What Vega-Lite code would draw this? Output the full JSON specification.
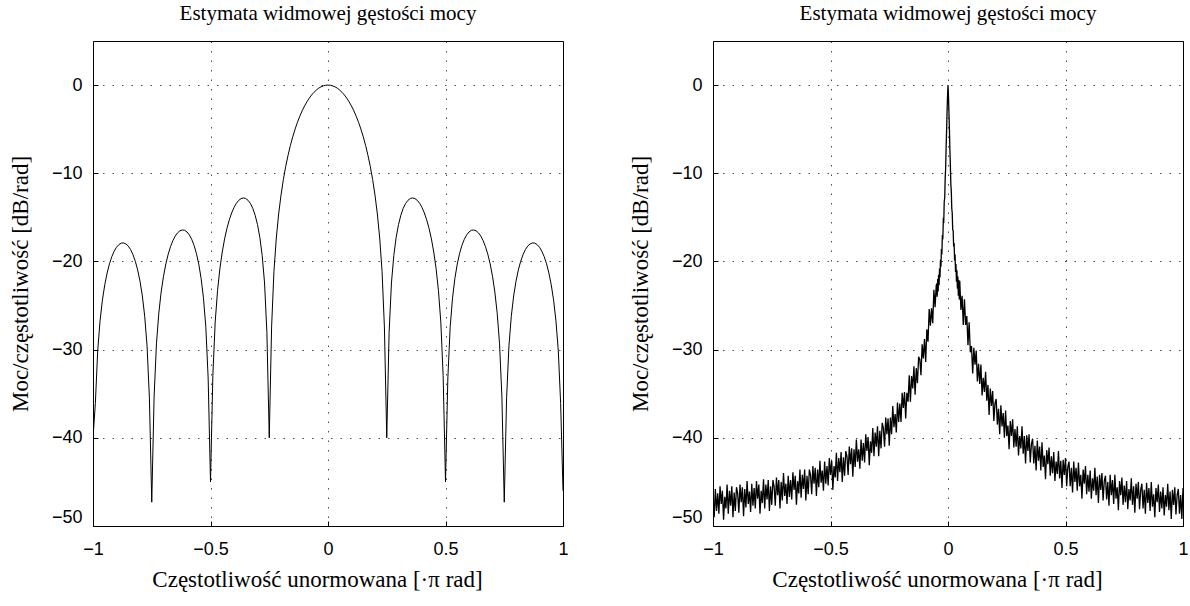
{
  "$schema": "https://vega.github.io/schema/vega-lite/v6.json",
  "background": "white",
  "padding": {"left": 8, "top": 2, "right": 0, "bottom": 0},
  "spacing": 150,
  "bounds": "flush",
  "config": {
    "view": {"stroke": "#000", "strokeWidth": 1},
    "axis": {
      "grid": true, "gridColor": "#000", "gridDash": [1.5, 8], "gridWidth": 1, "gridOpacity": 0.7,
      "domain": false, "ticks": true, "tickColor": "#000", "tickSize": -5,
      "labelFont": "Liberation Sans", "labelFontSize": 18, "labelColor": "#000",
      "titleFont": "Liberation Serif", "titleFontSize": 23, "titleFontWeight": "normal", "titleColor": "#000"
    },
    "axisX": {"labelFlush": false, "labelPadding": 19, "titleX": 224, "titleY": 53, "titleBaseline": "middle"},
    "axisY": {"labelFlush": true, "labelPadding": 16, "titleX": -73, "titleBaseline": "middle"},
    "title": {"font": "Liberation Serif", "fontSize": 21, "fontWeight": "normal", "color": "#000", "offset": 17}
  },
  "datasets": {
    "psdL": [
      {"x":-1,"y":-40},{"x":-0.99,"y":-36.1},{"x":-0.98,"y":-30.14},{"x":-0.97,"y":-26.73},{"x":-0.96,"y":-24.39},{"x":-0.95,"y":-22.65},{"x":-0.94,"y":-21.32},{"x":-0.93,"y":-20.27},{"x":-0.92,"y":-19.46},{"x":-0.91,"y":-18.84},
      {"x":-0.9,"y":-18.39},{"x":-0.89,"y":-18.09},{"x":-0.88,"y":-17.92},{"x":-0.87,"y":-17.9},{"x":-0.86,"y":-18.01},{"x":-0.85,"y":-18.25},{"x":-0.84,"y":-18.65},{"x":-0.83,"y":-19.22},{"x":-0.82,"y":-19.98},{"x":-0.81,"y":-20.96},
      {"x":-0.8,"y":-22.24},{"x":-0.79,"y":-23.92},{"x":-0.78,"y":-26.21},{"x":-0.77,"y":-29.57},{"x":-0.76,"y":-35.47},{"x":-0.75,"y":-47.3},{"x":-0.74,"y":-35.36},{"x":-0.73,"y":-29.34},{"x":-0.72,"y":-25.87},{"x":-0.71,"y":-23.47},
      {"x":-0.7,"y":-21.68},{"x":-0.69,"y":-20.28},{"x":-0.68,"y":-19.18},{"x":-0.67,"y":-18.31},{"x":-0.66,"y":-17.63},{"x":-0.65,"y":-17.11},{"x":-0.64,"y":-16.75},{"x":-0.63,"y":-16.52},{"x":-0.62,"y":-16.43},{"x":-0.61,"y":-16.47},
      {"x":-0.6,"y":-16.66},{"x":-0.59,"y":-16.99},{"x":-0.58,"y":-17.49},{"x":-0.57,"y":-18.17},{"x":-0.56,"y":-19.09},{"x":-0.55,"y":-20.3},{"x":-0.54,"y":-21.91},{"x":-0.53,"y":-24.12},{"x":-0.52,"y":-27.4},{"x":-0.51,"y":-33.22},
      {"x":-0.5,"y":-45},{"x":-0.49,"y":-32.95},{"x":-0.48,"y":-26.86},{"x":-0.47,"y":-23.3},{"x":-0.46,"y":-20.81},{"x":-0.45,"y":-18.93},{"x":-0.44,"y":-17.44},{"x":-0.43,"y":-16.25},{"x":-0.42,"y":-15.28},{"x":-0.41,"y":-14.5},
      {"x":-0.4,"y":-13.88},{"x":-0.39,"y":-13.41},{"x":-0.38,"y":-13.08},{"x":-0.37,"y":-12.87},{"x":-0.36,"y":-12.8},{"x":-0.35,"y":-12.86},{"x":-0.34,"y":-13.07},{"x":-0.33,"y":-13.43},{"x":-0.32,"y":-13.98},{"x":-0.31,"y":-14.76},
      {"x":-0.3,"y":-15.82},{"x":-0.29,"y":-17.27},{"x":-0.28,"y":-19.33},{"x":-0.27,"y":-22.44},{"x":-0.26,"y":-28.08},{"x":-0.25,"y":-40},{"x":-0.24,"y":-27.42},{"x":-0.23,"y":-21.12},{"x":-0.22,"y":-17.34},{"x":-0.21,"y":-14.61},
      {"x":-0.2,"y":-12.48},{"x":-0.19,"y":-10.72},{"x":-0.18,"y":-9.24},{"x":-0.17,"y":-7.96},{"x":-0.16,"y":-6.84},{"x":-0.15,"y":-5.86},{"x":-0.14,"y":-4.99},{"x":-0.13,"y":-4.22},{"x":-0.12,"y":-3.53},{"x":-0.11,"y":-2.92},
      {"x":-0.1,"y":-2.38},{"x":-0.09,"y":-1.91},{"x":-0.08,"y":-1.49},{"x":-0.07,"y":-1.13},{"x":-0.06,"y":-0.83},{"x":-0.05,"y":-0.57},{"x":-0.04,"y":-0.36},{"x":-0.03,"y":-0.2},{"x":-0.02,"y":-0.09},{"x":-0.01,"y":-0.02},
      {"x":0,"y":0},
      {"x":0.01,"y":-0.02},{"x":0.02,"y":-0.09},{"x":0.03,"y":-0.2},{"x":0.04,"y":-0.36},{"x":0.05,"y":-0.57},{"x":0.06,"y":-0.83},{"x":0.07,"y":-1.13},{"x":0.08,"y":-1.49},{"x":0.09,"y":-1.91},{"x":0.1,"y":-2.38},
      {"x":0.11,"y":-2.92},{"x":0.12,"y":-3.53},{"x":0.13,"y":-4.22},{"x":0.14,"y":-4.99},{"x":0.15,"y":-5.86},{"x":0.16,"y":-6.84},{"x":0.17,"y":-7.96},{"x":0.18,"y":-9.24},{"x":0.19,"y":-10.72},{"x":0.2,"y":-12.48},
      {"x":0.21,"y":-14.61},{"x":0.22,"y":-17.34},{"x":0.23,"y":-21.12},{"x":0.24,"y":-27.42},{"x":0.25,"y":-40},{"x":0.26,"y":-28.08},{"x":0.27,"y":-22.44},{"x":0.28,"y":-19.33},{"x":0.29,"y":-17.27},{"x":0.3,"y":-15.82},
      {"x":0.31,"y":-14.76},{"x":0.32,"y":-13.98},{"x":0.33,"y":-13.43},{"x":0.34,"y":-13.07},{"x":0.35,"y":-12.86},{"x":0.36,"y":-12.8},{"x":0.37,"y":-12.87},{"x":0.38,"y":-13.08},{"x":0.39,"y":-13.41},{"x":0.4,"y":-13.88},
      {"x":0.41,"y":-14.5},{"x":0.42,"y":-15.28},{"x":0.43,"y":-16.25},{"x":0.44,"y":-17.44},{"x":0.45,"y":-18.93},{"x":0.46,"y":-20.81},{"x":0.47,"y":-23.3},{"x":0.48,"y":-26.86},{"x":0.49,"y":-32.95},{"x":0.5,"y":-45},
      {"x":0.51,"y":-33.22},{"x":0.52,"y":-27.4},{"x":0.53,"y":-24.12},{"x":0.54,"y":-21.91},{"x":0.55,"y":-20.3},{"x":0.56,"y":-19.09},{"x":0.57,"y":-18.17},{"x":0.58,"y":-17.49},{"x":0.59,"y":-16.99},{"x":0.6,"y":-16.66},
      {"x":0.61,"y":-16.47},{"x":0.62,"y":-16.43},{"x":0.63,"y":-16.52},{"x":0.64,"y":-16.75},{"x":0.65,"y":-17.11},{"x":0.66,"y":-17.63},{"x":0.67,"y":-18.31},{"x":0.68,"y":-19.18},{"x":0.69,"y":-20.28},{"x":0.7,"y":-21.68},
      {"x":0.71,"y":-23.47},{"x":0.72,"y":-25.87},{"x":0.73,"y":-29.34},{"x":0.74,"y":-35.36},{"x":0.75,"y":-47.3},{"x":0.76,"y":-35.47},{"x":0.77,"y":-29.57},{"x":0.78,"y":-26.21},{"x":0.79,"y":-23.92},{"x":0.8,"y":-22.24},
      {"x":0.81,"y":-20.96},{"x":0.82,"y":-19.98},{"x":0.83,"y":-19.22},{"x":0.84,"y":-18.65},{"x":0.85,"y":-18.25},{"x":0.86,"y":-18.01},{"x":0.87,"y":-17.9},{"x":0.88,"y":-17.92},{"x":0.89,"y":-18.09},{"x":0.9,"y":-18.39},
      {"x":0.91,"y":-18.84},{"x":0.92,"y":-19.46},{"x":0.93,"y":-20.27},{"x":0.94,"y":-21.32},{"x":0.95,"y":-22.65},{"x":0.96,"y":-24.39},{"x":0.97,"y":-26.73},{"x":0.98,"y":-30.14},{"x":0.99,"y":-36.1},{"x":1,"y":-46}
    ],
    "psdR": [
      {"x":-1,"y":-46.7},{"x":-0.995,"y":-49.0},{"x":-0.99,"y":-45.8},{"x":-0.985,"y":-48.3},{"x":-0.98,"y":-46.3},{"x":-0.975,"y":-48.6},{"x":-0.97,"y":-45.5},{"x":-0.965,"y":-47.5},{"x":-0.96,"y":-46.0},{"x":-0.955,"y":-49.3},
      {"x":-0.95,"y":-46.7},{"x":-0.945,"y":-48.0},{"x":-0.94,"y":-45.3},{"x":-0.935,"y":-48.6},{"x":-0.93,"y":-46.0},{"x":-0.925,"y":-47.7},{"x":-0.92,"y":-45.5},{"x":-0.915,"y":-49.0},{"x":-0.91,"y":-46.2},{"x":-0.905,"y":-48.3},
      {"x":-0.9,"y":-45.6},{"x":-0.895,"y":-46.3},{"x":-0.89,"y":-48.5},{"x":-0.885,"y":-45.3},{"x":-0.88,"y":-47.3},{"x":-0.875,"y":-45.6},{"x":-0.87,"y":-48.9},{"x":-0.865,"y":-45.8},{"x":-0.86,"y":-47.9},{"x":-0.855,"y":-44.9},
      {"x":-0.85,"y":-47.5},{"x":-0.845,"y":-46.1},{"x":-0.84,"y":-48.4},{"x":-0.835,"y":-45.2},{"x":-0.83,"y":-47.7},{"x":-0.825,"y":-45.7},{"x":-0.82,"y":-48.0},{"x":-0.815,"y":-44.9},{"x":-0.81,"y":-46.9},{"x":-0.805,"y":-45.3},
      {"x":-0.8,"y":-48.6},{"x":-0.795,"y":-46.0},{"x":-0.79,"y":-47.4},{"x":-0.785,"y":-44.7},{"x":-0.78,"y":-48.0},{"x":-0.775,"y":-45.3},{"x":-0.77,"y":-47.0},{"x":-0.765,"y":-44.8},{"x":-0.76,"y":-48.3},{"x":-0.755,"y":-45.5},
      {"x":-0.75,"y":-47.6},{"x":-0.745,"y":-44.8},{"x":-0.74,"y":-45.5},{"x":-0.735,"y":-47.7},{"x":-0.73,"y":-44.5},{"x":-0.725,"y":-46.5},{"x":-0.72,"y":-44.8},{"x":-0.715,"y":-48.0},{"x":-0.71,"y":-45.0},{"x":-0.705,"y":-47.1},
      {"x":-0.7,"y":-44.0},{"x":-0.695,"y":-46.6},{"x":-0.69,"y":-45.2},{"x":-0.685,"y":-47.5},{"x":-0.68,"y":-44.3},{"x":-0.675,"y":-46.7},{"x":-0.67,"y":-44.8},{"x":-0.665,"y":-47.0},{"x":-0.66,"y":-43.9},{"x":-0.655,"y":-45.9},
      {"x":-0.65,"y":-44.3},{"x":-0.645,"y":-47.6},{"x":-0.64,"y":-44.9},{"x":-0.635,"y":-46.3},{"x":-0.63,"y":-43.6},{"x":-0.625,"y":-46.8},{"x":-0.62,"y":-44.2},{"x":-0.615,"y":-45.8},{"x":-0.61,"y":-43.6},{"x":-0.605,"y":-47.1},
      {"x":-0.6,"y":-44.3},{"x":-0.595,"y":-46.4},{"x":-0.59,"y":-43.6},{"x":-0.585,"y":-44.2},{"x":-0.58,"y":-46.4},{"x":-0.575,"y":-43.2},{"x":-0.57,"y":-45.2},{"x":-0.565,"y":-43.4},{"x":-0.56,"y":-46.6},{"x":-0.555,"y":-43.6},
      {"x":-0.55,"y":-45.6},{"x":-0.545,"y":-42.6},{"x":-0.54,"y":-45.1},{"x":-0.535,"y":-43.7},{"x":-0.53,"y":-46.0},{"x":-0.525,"y":-42.7},{"x":-0.52,"y":-45.2},{"x":-0.515,"y":-43.2},{"x":-0.51,"y":-45.4},{"x":-0.505,"y":-42.3},
      {"x":-0.5,"y":-44.2},{"x":-0.495,"y":-42.6},{"x":-0.49,"y":-45.9},{"x":-0.485,"y":-43.2},{"x":-0.48,"y":-44.5},{"x":-0.475,"y":-41.7},{"x":-0.47,"y":-44.9},{"x":-0.465,"y":-42.3},{"x":-0.46,"y":-43.9},{"x":-0.455,"y":-41.6},
      {"x":-0.45,"y":-45.0},{"x":-0.445,"y":-42.2},{"x":-0.44,"y":-44.3},{"x":-0.435,"y":-41.5},{"x":-0.43,"y":-42.1},{"x":-0.425,"y":-44.2},{"x":-0.42,"y":-41.0},{"x":-0.415,"y":-43.0},{"x":-0.41,"y":-41.2},{"x":-0.405,"y":-44.4},
      {"x":-0.4,"y":-41.3},{"x":-0.395,"y":-43.3},{"x":-0.39,"y":-40.2},{"x":-0.385,"y":-42.7},{"x":-0.38,"y":-41.3},{"x":-0.375,"y":-43.5},{"x":-0.37,"y":-40.2},{"x":-0.365,"y":-42.6},{"x":-0.36,"y":-40.6},{"x":-0.355,"y":-42.8},
      {"x":-0.35,"y":-39.6},{"x":-0.345,"y":-41.5},{"x":-0.34,"y":-39.9},{"x":-0.335,"y":-43.1},{"x":-0.33,"y":-40.4},{"x":-0.325,"y":-41.7},{"x":-0.32,"y":-38.9},{"x":-0.315,"y":-42.1},{"x":-0.31,"y":-39.4},{"x":-0.305,"y":-41.0},
      {"x":-0.3,"y":-38.7},{"x":-0.295,"y":-42.1},{"x":-0.29,"y":-39.2},{"x":-0.285,"y":-41.2},{"x":-0.28,"y":-38.3},{"x":-0.275,"y":-38.9},{"x":-0.27,"y":-41.0},{"x":-0.265,"y":-37.7},{"x":-0.26,"y":-39.6},{"x":-0.255,"y":-37.8},
      {"x":-0.25,"y":-40.9},{"x":-0.245,"y":-37.7},{"x":-0.24,"y":-39.6},{"x":-0.235,"y":-36.4},{"x":-0.23,"y":-38.8},{"x":-0.225,"y":-37.3},{"x":-0.22,"y":-39.4},{"x":-0.215,"y":-36.0},{"x":-0.21,"y":-38.2},{"x":-0.205,"y":-36.1},
      {"x":-0.2,"y":-38.2},{"x":-0.195,"y":-34.9},{"x":-0.19,"y":-36.6},{"x":-0.185,"y":-34.8},{"x":-0.18,"y":-37.8},{"x":-0.175,"y":-34.9},{"x":-0.17,"y":-35.9},{"x":-0.165,"y":-32.9},{"x":-0.16,"y":-35.9},{"x":-0.155,"y":-33.0},
      {"x":-0.15,"y":-34.4},{"x":-0.145,"y":-31.9},{"x":-0.14,"y":-35.1},{"x":-0.135,"y":-32.1},{"x":-0.13,"y":-33.8},{"x":-0.125,"y":-30.8},{"x":-0.12,"y":-31.1},{"x":-0.115,"y":-32.9},{"x":-0.11,"y":-29.4},{"x":-0.105,"y":-31.0},
      {"x":-0.1,"y":-28.8},{"x":-0.095,"y":-31.4},{"x":-0.09,"y":-27.7},{"x":-0.085,"y":-29.1},{"x":-0.08,"y":-25.4},{"x":-0.075,"y":-27.3},{"x":-0.07,"y":-25.3},{"x":-0.065,"y":-27.0},{"x":-0.06,"y":-23.2},{"x":-0.055,"y":-25.2},
      {"x":-0.05,"y":-22.7},{"x":-0.048,"y":-22.6},{"x":-0.046,"y":-24.0},{"x":-0.044,"y":-22.0},{"x":-0.042,"y":-23.4},{"x":-0.04,"y":-21.5},{"x":-0.038,"y":-22.7},{"x":-0.036,"y":-20.8},{"x":-0.034,"y":-21.8},{"x":-0.032,"y":-19.8},
      {"x":-0.03,"y":-20.6},{"x":-0.028,"y":-18.6},{"x":-0.026,"y":-19.2},{"x":-0.024,"y":-17.0},{"x":-0.022,"y":-17.5},{"x":-0.02,"y":-15.3},{"x":-0.018,"y":-15.4},{"x":-0.016,"y":-13.2},{"x":-0.014,"y":-12.8},{"x":-0.012,"y":-10.6},
      {"x":-0.01,"y":-9.4},{"x":-0.008,"y":-7.1},{"x":-0.006,"y":-5.2},{"x":-0.004,"y":-3.0},{"x":-0.002,"y":-1.3},{"x":0,"y":0},
      {"x":0.002,"y":-1.2},{"x":0.004,"y":-3.1},{"x":0.006,"y":-5.0},{"x":0.008,"y":-7.3},{"x":0.01,"y":-9.0},{"x":0.012,"y":-11.2},{"x":0.014,"y":-12.0},{"x":0.016,"y":-14.0},{"x":0.018,"y":-14.5},{"x":0.02,"y":-16.4},
      {"x":0.022,"y":-16.5},{"x":0.024,"y":-18.3},{"x":0.026,"y":-17.9},{"x":0.028,"y":-19.9},{"x":0.03,"y":-19.2},{"x":0.032,"y":-21.2},{"x":0.034,"y":-20.3},{"x":0.036,"y":-22.3},{"x":0.038,"y":-21.0},{"x":0.04,"y":-23.1},
      {"x":0.042,"y":-21.7},{"x":0.044,"y":-23.9},{"x":0.046,"y":-22.1},{"x":0.048,"y":-24.3},
      {"x":0.05,"y":-22.2},{"x":0.055,"y":-25.5},{"x":0.06,"y":-23.9},{"x":0.065,"y":-27.2},{"x":0.07,"y":-24.3},{"x":0.075,"y":-27.2},{"x":0.08,"y":-26.2},{"x":0.085,"y":-29.5},{"x":0.09,"y":-26.9},{"x":0.095,"y":-30.3},
      {"x":0.1,"y":-29.6},{"x":0.105,"y":-32.7},{"x":0.11,"y":-29.8},{"x":0.115,"y":-31.7},{"x":0.12,"y":-30.1},{"x":0.125,"y":-33.6},{"x":0.13,"y":-31.6},{"x":0.135,"y":-33.9},{"x":0.14,"y":-31.7},{"x":0.145,"y":-35.2},
      {"x":0.15,"y":-33.2},{"x":0.155,"y":-34.8},{"x":0.16,"y":-32.5},{"x":0.165,"y":-35.8},{"x":0.17,"y":-34.0},{"x":0.175,"y":-37.4},{"x":0.18,"y":-34.4},{"x":0.185,"y":-36.4},{"x":0.19,"y":-34.7},{"x":0.195,"y":-38.1},
      {"x":0.2,"y":-36.1},{"x":0.205,"y":-35.6},{"x":0.21,"y":-38.5},{"x":0.215,"y":-36.7},{"x":0.22,"y":-39.6},{"x":0.225,"y":-36.3},{"x":0.23,"y":-38.7},{"x":0.235,"y":-37.2},{"x":0.24,"y":-40.0},{"x":0.245,"y":-36.9},
      {"x":0.25,"y":-39.8},{"x":0.255,"y":-38.6},{"x":0.26,"y":-41.3},{"x":0.265,"y":-38.1},{"x":0.27,"y":-39.8},{"x":0.275,"y":-37.9},{"x":0.28,"y":-41.1},{"x":0.285,"y":-39.0},{"x":0.29,"y":-41.0},{"x":0.295,"y":-38.7},
      {"x":0.3,"y":-42.0},{"x":0.305,"y":-39.8},{"x":0.31,"y":-41.2},{"x":0.315,"y":-38.7},{"x":0.32,"y":-41.8},{"x":0.325,"y":-39.8},{"x":0.33,"y":-42.9},{"x":0.335,"y":-39.7},{"x":0.34,"y":-41.5},{"x":0.345,"y":-39.6},
      {"x":0.35,"y":-42.8},{"x":0.355,"y":-40.7},{"x":0.36,"y":-40.1},{"x":0.365,"y":-42.9},{"x":0.37,"y":-40.9},{"x":0.375,"y":-43.7},{"x":0.38,"y":-40.3},{"x":0.385,"y":-42.6},{"x":0.39,"y":-41.0},{"x":0.395,"y":-43.7},
      {"x":0.4,"y":-40.5},{"x":0.405,"y":-43.3},{"x":0.41,"y":-42.0},{"x":0.415,"y":-44.7},{"x":0.42,"y":-41.4},{"x":0.425,"y":-43.0},{"x":0.43,"y":-41.1},{"x":0.435,"y":-44.3},{"x":0.44,"y":-42.1},{"x":0.445,"y":-44.0},
      {"x":0.45,"y":-41.6},{"x":0.455,"y":-44.9},{"x":0.46,"y":-42.7},{"x":0.465,"y":-44.1},{"x":0.47,"y":-41.5},{"x":0.475,"y":-44.6},{"x":0.48,"y":-42.6},{"x":0.485,"y":-45.7},{"x":0.49,"y":-42.5},{"x":0.495,"y":-44.2},
      {"x":0.5,"y":-42.3},{"x":0.505,"y":-45.5},{"x":0.51,"y":-43.3},{"x":0.515,"y":-42.7},{"x":0.52,"y":-45.5},{"x":0.525,"y":-43.4},{"x":0.53,"y":-46.2},{"x":0.535,"y":-42.7},{"x":0.54,"y":-45.0},{"x":0.545,"y":-43.4},
      {"x":0.55,"y":-46.0},{"x":0.555,"y":-42.8},{"x":0.56,"y":-45.5},{"x":0.565,"y":-44.2},{"x":0.57,"y":-46.9},{"x":0.575,"y":-43.6},{"x":0.58,"y":-45.2},{"x":0.585,"y":-43.2},{"x":0.59,"y":-46.4},{"x":0.595,"y":-44.2},
      {"x":0.6,"y":-46.1},{"x":0.605,"y":-43.7},{"x":0.61,"y":-46.9},{"x":0.615,"y":-44.6},{"x":0.62,"y":-46.0},{"x":0.625,"y":-43.4},{"x":0.63,"y":-46.5},{"x":0.635,"y":-44.4},{"x":0.64,"y":-47.4},{"x":0.645,"y":-44.2},
      {"x":0.65,"y":-45.9},{"x":0.655,"y":-44.0},{"x":0.66,"y":-47.1},{"x":0.665,"y":-44.9},{"x":0.67,"y":-44.3},{"x":0.675,"y":-47.0},{"x":0.68,"y":-45.0},{"x":0.685,"y":-47.7},{"x":0.69,"y":-44.2},{"x":0.695,"y":-46.5},
      {"x":0.7,"y":-44.8},{"x":0.705,"y":-47.5},{"x":0.71,"y":-44.2},{"x":0.715,"y":-46.9},{"x":0.72,"y":-45.6},{"x":0.725,"y":-48.2},{"x":0.73,"y":-44.9},{"x":0.735,"y":-46.5},{"x":0.74,"y":-44.5},{"x":0.745,"y":-47.6},
      {"x":0.75,"y":-45.4},{"x":0.755,"y":-47.3},{"x":0.76,"y":-44.9},{"x":0.765,"y":-48.1},{"x":0.77,"y":-45.8},{"x":0.775,"y":-47.1},{"x":0.78,"y":-44.6},{"x":0.785,"y":-47.6},{"x":0.79,"y":-45.5},{"x":0.795,"y":-48.5},
      {"x":0.8,"y":-45.2},{"x":0.805,"y":-46.9},{"x":0.81,"y":-45.0},{"x":0.815,"y":-48.1},{"x":0.82,"y":-45.9},{"x":0.825,"y":-45.2},{"x":0.83,"y":-48.0},{"x":0.835,"y":-45.9},{"x":0.84,"y":-48.6},{"x":0.845,"y":-45.1},
      {"x":0.85,"y":-47.4},{"x":0.855,"y":-45.7},{"x":0.86,"y":-48.3},{"x":0.865,"y":-45.0},{"x":0.87,"y":-47.8},{"x":0.875,"y":-46.4},{"x":0.88,"y":-49.0},{"x":0.885,"y":-45.7},{"x":0.89,"y":-47.3},{"x":0.895,"y":-45.3},
      {"x":0.9,"y":-48.4},{"x":0.905,"y":-46.1},{"x":0.91,"y":-48.0},{"x":0.915,"y":-45.6},{"x":0.92,"y":-48.8},{"x":0.925,"y":-46.5},{"x":0.93,"y":-47.8},{"x":0.935,"y":-45.2},{"x":0.94,"y":-48.2},{"x":0.945,"y":-46.1},
      {"x":0.95,"y":-49.2},{"x":0.955,"y":-45.9},{"x":0.96,"y":-47.6},{"x":0.965,"y":-45.6},{"x":0.97,"y":-48.7},{"x":0.975,"y":-46.5},{"x":0.98,"y":-45.8},{"x":0.985,"y":-48.6},{"x":0.99,"y":-46.5},{"x":0.995,"y":-49.2},
      {"x":1,"y":-45.7}
    ]
  },
  "hconcat": [
    {
      "title": "Estymata widmowej gęstości mocy",
      "width": 470,
      "height": 485,
      "data": {"name": "psdL"},
      "mark": {"type": "line", "color": "#000", "strokeWidth": 1, "clip": true},
      "encoding": {
        "x": {"field": "x", "type": "quantitative", "scale": {"domain": [-1, 1], "nice": false, "zero": false},
              "axis": {"values": [-1, -0.5, 0, 0.5, 1], "format": "~g", "title": "Częstotliwość unormowana [·π rad]"}},
        "y": {"field": "y", "type": "quantitative", "scale": {"domain": [-50, 5], "nice": false, "zero": false},
              "axis": {"values": [-50, -40, -30, -20, -10, 0], "format": "d", "title": "Moc/częstotliwość [dB/rad]"}}
      }
    },
    {
      "title": "Estymata widmowej gęstości mocy",
      "width": 470,
      "height": 485,
      "data": {"name": "psdR"},
      "mark": {"type": "line", "color": "#000", "strokeWidth": 1.3, "clip": true},
      "encoding": {
        "x": {"field": "x", "type": "quantitative", "scale": {"domain": [-1, 1], "nice": false, "zero": false},
              "axis": {"values": [-1, -0.5, 0, 0.5, 1], "format": "~g", "title": "Częstotliwość unormowana [·π rad]"}},
        "y": {"field": "y", "type": "quantitative", "scale": {"domain": [-50, 5], "nice": false, "zero": false},
              "axis": {"values": [-50, -40, -30, -20, -10, 0], "format": "d", "title": "Moc/częstotliwość [dB/rad]"}}
      }
    }
  ]
}
